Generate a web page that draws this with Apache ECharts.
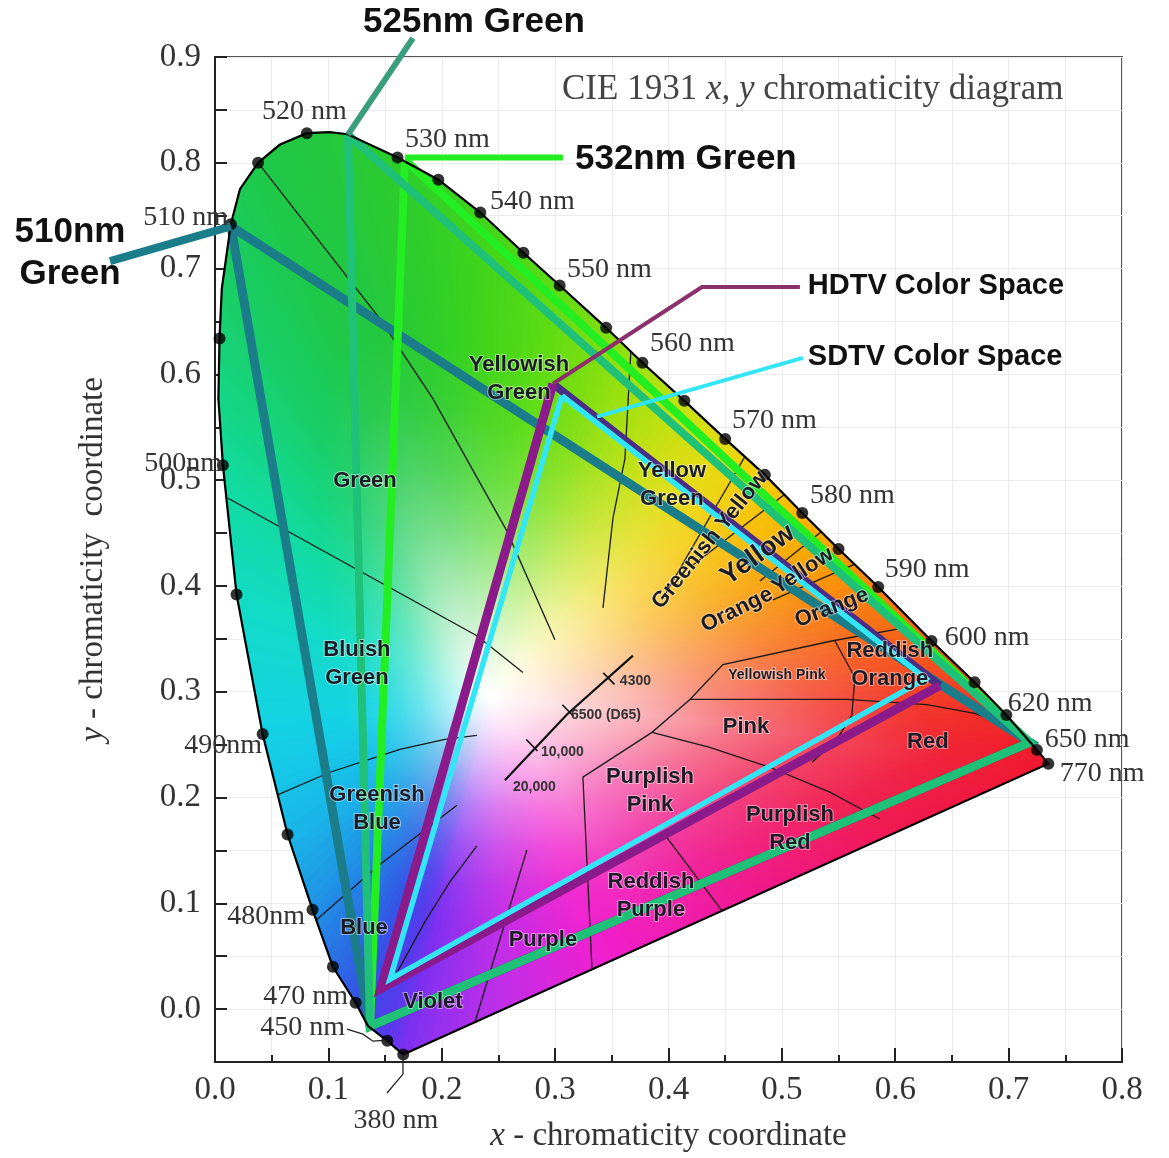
<!DOCTYPE html>
<html><head><meta charset="utf-8">
<script src="https://cdn.jsdelivr.net/npm/echarts@6/dist/echarts.min.js"></script>
<style>html,body{margin:0;padding:0;background:#fff}#c{width:1169px;height:1158px}</style>
</head><body><div id="c"></div>
<script>
// ---------- data (chromaticity coordinates) ----------
const locusPoints = [
 [0.166,-0.043],[0.152,-0.030],[0.135,-0.016],[0.124,0.006],[0.104,0.040],[0.086,0.094],
 [0.064,0.165],[0.042,0.260],[0.019,0.392],[0.007,0.514],[0.003,0.577],[0.004,0.634],
 [0.006,0.681],[0.014,0.742],[0.022,0.775],[0.038,0.800],[0.057,0.817],[0.081,0.828],
 [0.101,0.829],[0.117,0.827],[0.161,0.805],[0.197,0.784],[0.234,0.753],[0.272,0.715],
 [0.304,0.684],[0.345,0.644],[0.377,0.611],[0.414,0.575],[0.450,0.539],[0.485,0.505],
 [0.518,0.469],[0.550,0.435],[0.585,0.399],[0.632,0.348],[0.670,0.309],[0.698,0.278],
 [0.725,0.245],[0.735,0.232]
];
const locusDotIndex = [0,1,3,4,5,6,7,8,9,11,13,15,17,20,21,22,23,24,25,26,27,28,29,30,31,32,33,34,35,36,37];
const fanCenter = [0.2425, 0.2945];

const wavelengthLabels = [
 ['380 nm',0.1596,-0.1056],['450 nm',0.1146,-0.0171],['470 nm',0.1173,0.0121],
 ['480nm',0.0794,0.0874],['490nm',0.0414,0.2494],['500nm',0.0062,0.5158],
 ['510 nm',0.0115,0.7484],['520 nm',0.0414,0.8482],['530 nm',0.1675,0.8218],
 ['540 nm',0.2425,0.7635],['550 nm',0.3104,0.6994],['560 nm',0.3836,0.6288],
 ['570 nm',0.4559,0.5563],['580 nm',0.5247,0.4857],['590 nm',0.5908,0.4151],
 ['600 nm',0.6437,0.3510],['620 nm',0.6993,0.2889],['650 nm',0.7319,0.2550],
 ['770 nm',0.7451,0.2230]
];
const wavelengthAlign = ['center','right','right','right','right','right','right',
 'left','left','left','left','left','left','left','left','left','left','left','left'];

const regionLabels = [
 ['Green',0.1323,0.4989],['Bluish\nGreen',0.1252,0.3266],['Greenish\nBlue',0.1429,0.1891],
 ['Blue',0.1314,0.0770],['Violet',0.1922,0.0064],['Purple',0.2892,0.0657],
 ['Reddish\nPurple',0.3845,0.1072],['Purplish\nRed',0.5071,0.1702],['Purplish\nPink',0.3836,0.2060],
 ['Pink',0.4683,0.2663],['Red',0.6287,0.2522],['Yellowish Pink',0.4956,0.3153],
 ['Reddish\nOrange',0.5952,0.3256],['Orange',0.4603,0.3774],['Yellow',0.5185,0.4141],
 ['Orange',0.5441,0.3793],['Yellow',0.4788,0.4292],['Greenish Yellow',0.4365,0.4433],
 ['Yellow\nGreen',0.4030,0.4951],['Yellowish\nGreen',0.2681,0.5959]
];
const regionRotate = [0,0,0,0,0,0,0,0,0,0,0,0,0,26,33,21,36,51,0,0];

const kellyLines = [
 [[0.0379,0.8002],[0.1455,0.6524],[0.1922,0.5770],[0.2575,0.4518],[0.2998,0.3492]],
 [[0.0115,0.4829],[0.2310,0.3529],[0.2716,0.3181]],
 [[0.0547,0.2023],[0.1014,0.2239],[0.1631,0.2456],[0.2028,0.2550],[0.2310,0.2588]],
 [[0.0899,0.0846],[0.1429,0.1345],[0.2134,0.1928]],
 [[0.1587,0.0309],[0.1852,0.0827],[0.2072,0.1203],[0.2310,0.1542]],
 [[0.2293,-0.0124],[0.2751,0.1505]],
 [[0.3325,0.0384],[0.3245,0.2192],[0.3854,0.2616],[0.4189,0.2927],[0.4480,0.3256],[0.5450,0.3482],[0.6129,0.3614]],
 [[0.4189,0.2927],[0.5573,0.2927],[0.6279,0.2879],[0.6702,0.2795],[0.7037,0.2663]],
 [[0.3854,0.2616],[0.4365,0.2475],[0.4894,0.2286],[0.5423,0.2051],[0.5864,0.1797]],
 [[0.3968,0.1646],[0.4471,0.0930]],
 [[0.5467,0.3482],[0.5644,0.3134],[0.5617,0.2776],[0.5467,0.2522],[0.5265,0.2333]],
 [[0.4674,0.5224],[0.3942,0.3868]],
 [[0.5026,0.4866],[0.4215,0.4198]],
 [[0.5353,0.4518],[0.4806,0.4047]],
 [[0.5644,0.4207],[0.4921,0.3868]],
 [[0.3668,0.6222],[0.3616,0.5205],[0.3510,0.4640],[0.3422,0.3793]]
];

const planckLocus = [[0.2557,0.2164],[0.3104,0.2785],[0.3686,0.3341]];
const planckTicks = [[0.3474,0.3124],[0.3113,0.2823],[0.2795,0.2494]];
const planckLabels = [['4300',0.3571,0.3096],['6500 (D65)',0.3139,0.2776],['10,000',0.2875,0.2427],['20,000',0.2628,0.2098]];

const redPrimary = [0.7187,0.2522];
const bluePrimary = [0.1367,-0.0162];
const green510 = [0.0141,0.7399];
const green525 = [0.1173,0.8266];
const green532 = [0.1675,0.8030];
const hdtvPrimaries = [[0.2981,0.5911],[0.6393,0.3058],[0.1464,0.0196]];
const sdtvPrimaries = [[0.3060,0.5798],[0.6270,0.3124],[0.1543,0.0281]];

const callout510 = [[-0.0926,0.7070],[0.0141,0.7399]];
const callout525 = [[0.1746,0.9179],[0.1173,0.8266]];
const callout532 = [[0.1675,0.8049],[0.3069,0.8049]];
const calloutHDTV = [[0.2981,0.5911],[0.4295,0.6825],[0.5159,0.6825]];
const calloutSDTV = [[0.3369,0.5601],[0.5185,0.6156]];
const leader380 = [[0.1658,-0.0426],[0.1658,-0.0614],[0.1517,-0.0793]];
const leader450 = [[0.1164,-0.0190],[0.1305,-0.0237],[0.1393,-0.0303],[0.1517,-0.0294]];

const calloutLabels = [
 ['525nm Green',0.2284,0.9330],['532nm Green',0.3175,0.8030],['510nm\nGreen',-0.1279,0.7145],
 ['HDTV Color Space',0.5229,0.6834],['SDTV Color Space',0.5229,0.6166]
];

// ---------- styles ----------
const locusColors = ['#7b2ff0','#5a38ee','#4644ea','#3652e6','#2a6ee4','#2092e6','#18b6e8','#14d2e6',
 '#12dcc4','#12da9c','#14d686','#16d276','#18ce68','#1acc5c','#1cca52','#1ec84a','#20c844','#22c840',
 '#24c83c','#26ca36','#2ccc2c','#34d024','#40d41a','#4ed816','#60dc12','#7ede10','#a0e010','#c4e010',
 '#e2dc10','#f4cc08','#f8b800','#f8a000','#f88408','#f65c18','#f44020','#f22c24','#f01c28','#f0182e'];
const saturationSpeed = [1.35,1.35,1.35,1.35,1.35,1.35,1.35,1.35,1.35,1.35,1.35,1.35,1.35,1.35,1.35,1.35,
 1.35,1.35,1.35,1.35,1.3,1.25,1.2,1.15,1.1,1.05,1.0,0.95,0.9,0.85,0.85,0.85,0.85,0.85,0.85,0.85,0.85,0.85];
const purpleRamp = [[0,'#f0182e'],[0.23,'#f01850'],[0.46,'#f01890'],[0.69,'#f020d0'],[0.85,'#c02ee8'],[0.96,'#9030f0'],[1,'#7b2ff0']];
const mixStops = [[0,0],[0.1,0.12],[0.25,0.36],[0.4,0.62],[0.55,0.82],[0.7,0.95],[0.85,1],[1,1]];

function hexRgb(h){return [parseInt(h.substr(1,2),16),parseInt(h.substr(3,2),16),parseInt(h.substr(5,2),16)];}
function lerpC(a,b,t){return a.map((v,i)=>v+(b[i]-v)*t);}
function rgbStr(c){return 'rgb('+c.map(v=>Math.round(v)).join(',')+')';}
function rampAt(t){
  for(let k=0;k<purpleRamp.length-1;k++){
    const a=purpleRamp[k],b=purpleRamp[k+1];
    if(t<=b[0]) return lerpC(hexRgb(a[1]),hexRgb(b[1]),(t-a[0])/(b[0]-a[0]));
  }
  return hexRgb(purpleRamp[purpleRamp.length-1][1]);
}
function edgeColor(i,t){
  const n=locusPoints.length;
  if(i===n-1) return rampAt(t);
  return lerpC(hexRgb(locusColors[i]),hexRgb(locusColors[i+1]),t);
}
function edgeSpeed(i,t){
  const n=locusPoints.length;
  if(i===n-1) return 0.85+0.5*Math.max(0,(t-0.6)/0.4);
  return saturationSpeed[i]+(saturationSpeed[i+1]-saturationSpeed[i])*t;
}

const SERIF='"Liberation Serif", "Times New Roman", serif';
const SANS='"Liberation Sans", Arial, sans-serif';

function lineSeries(points,color,width,z,closed){
  const d=closed?points.concat([points[0]]):points;
  return {type:'line',data:d,showSymbol:false,symbol:'none',silent:true,z:z,clip:false,
    lineStyle:{color:color,width:width,join:'miter',cap:'butt'},emphasis:{disabled:true},animation:false};
}
function polySeries(points,color,width,z){
  return {type:'custom',coordinateSystem:'cartesian2d',data:points,clip:false,silent:true,z:z,
    renderItem:function(params,api){
      if(params.dataIndex!==0) return null;
      return {type:'polyline',shape:{points:points.map(p=>api.coord(p))},style:{stroke:color,lineWidth:width,fill:null}};
    }};
}
function textSeries(items,styleOf,z){
  return {type:'custom',coordinateSystem:'cartesian2d',data:items.map(it=>[it[1],it[2]]),clip:false,silent:true,z:z,
    renderItem:function(params,api){
      const it=items[params.dataIndex];const p=api.coord([it[1],it[2]]);const s=styleOf(params.dataIndex);
      return {type:'text',x:p[0],y:p[1],rotation:(s.rotate||0)*Math.PI/180,
        style:{text:it[0],font:s.font,fill:s.fill,align:s.align||'center',verticalAlign:'middle',
          lineHeight:s.lineHeight,stroke:s.stroke,lineWidth:s.lineWidth||0}};
    }};
}

const series=[];
// colour fill of the diagram (fan of gradient triangles)
series.push({type:'custom',coordinateSystem:'cartesian2d',silent:true,z:1,
  data:locusPoints.map(p=>[p[0],p[1]]),
  renderItem:function(params,api){
    const n=locusPoints.length,i=params.dataIndex,j=(i+1)%n;
    const A=api.coord(fanCenter),P=api.coord(locusPoints[i]),Q=api.coord(locusPoints[j]);
    const len=Math.hypot(Q[0]-P[0],Q[1]-P[1]);
    const k=Math.max(1,Math.ceil(len/10));
    const children=[];
    for(let s=0;s<k;s++){
      const t0=s/k,t1=(s+1)/k,tm=(t0+t1)/2;
      const p0=[P[0]+(Q[0]-P[0])*t0,P[1]+(Q[1]-P[1])*t0];
      const p1=[P[0]+(Q[0]-P[0])*t1,P[1]+(Q[1]-P[1])*t1];
      const m=[(p0[0]+p1[0])/2,(p0[1]+p1[1])/2];
      const c=edgeColor(i,tm);
      const sp=edgeSpeed(i,tm);
      const stops=[];
      mixStops.forEach(o=>{const off=Math.min(1,o[0]/sp);
        if(!stops.length||off>stops[stops.length-1].offset) stops.push({offset:off,color:rgbStr(lerpC([255,255,255],c,o[1]))});});
      if(stops[stops.length-1].offset<1) stops.push({offset:1,color:rgbStr(c)});
      const g=new echarts.graphic.LinearGradient(A[0],A[1],m[0],m[1],stops,true);
      children.push({type:'polygon',shape:{points:[A,p0,p1]},style:{fill:g,stroke:g,lineWidth:1.2}});
    }
    return {type:'group',children:children};
  }});
// region boundaries
kellyLines.forEach(l=>series.push(lineSeries(l,'#1a1a1a',1.3,2,false)));
// Planckian locus
series.push(lineSeries(planckLocus,'#111',2.2,3,false));
series.push({type:'custom',coordinateSystem:'cartesian2d',silent:true,z:3,data:planckTicks,
  renderItem:function(params,api){
    const a=api.coord(planckLocus[0]),b=api.coord(planckLocus[planckLocus.length-1]);
    let dx=b[0]-a[0],dy=b[1]-a[1];const L=Math.hypot(dx,dy);dx/=L;dy/=L;
    const p=api.coord(planckTicks[params.dataIndex]);const h=8;
    return {type:'line',shape:{x1:p[0]-dy*h,y1:p[1]+dx*h,x2:p[0]+dy*h,y2:p[1]-dx*h},style:{stroke:'#111',lineWidth:1.6}};
  }});
// laser gamut triangles
series.push(lineSeries([green510,redPrimary,bluePrimary],'#1b7d89',9,4,true));
series.push(lineSeries([green532,redPrimary,bluePrimary],'#22ee22',8,5,true));
series.push(lineSeries([green525,redPrimary,bluePrimary],'#1fc178',8,6,true));
// HDTV & SDTV
series.push(lineSeries([hdtvPrimaries[1],hdtvPrimaries[0]],'#4b2d86',8,7,false));
series.push(lineSeries([hdtvPrimaries[0],hdtvPrimaries[2],hdtvPrimaries[1]],'#8b1a8b',9,7,false));
series.push(lineSeries(sdtvPrimaries,'#33e6f5',5.5,8,true));
// spectral locus outline and dots
series.push(lineSeries(locusPoints,'#000',2.2,9,true));
series.push({type:'scatter',data:locusDotIndex.map(i=>locusPoints[i]),symbolSize:12,silent:true,z:10,
  itemStyle:{color:'#000'},clip:false});
// callouts & leaders
series.push(polySeries(callout510,'#1b7d89',8,11));
series.push(polySeries(callout525,'#3a9e7c',6,11));
series.push(polySeries(callout532,'#22ee22',6,11));
series.push(polySeries(calloutHDTV,'#8c2f6c',4,11));
series.push(polySeries(calloutSDTV,'#33e6f5',4,11));
series.push(polySeries(leader380,'#222',1.3,11));
series.push(polySeries(leader450,'#222',1.3,11));
// texts
series.push(textSeries(wavelengthLabels,i=>({font:'28px '+SERIF,fill:'#333',align:wavelengthAlign[i]}),12));
series.push(textSeries(regionLabels,i=>{
  const t=regionLabels[i][0];
  const size=t==='Yellowish Pink'?14:((t==='Yellow'&&regionRotate[i]>34)?27:22);
  return {font:'bold '+size+'px '+SANS,fill:'#1c1c26',rotate:regionRotate[i],lineHeight:size+6,
    stroke:'rgba(255,255,255,0.45)',lineWidth:2};
},12));
series.push(textSeries(planckLabels,i=>({font:'bold 14px '+SANS,fill:'#333',align:'left'}),12));
series.push(textSeries(calloutLabels,i=>({font:'bold '+(i<3?35:29)+'px '+SANS,fill:'#111',
  align:(i===0||i===2)?'center':'left',lineHeight:42}),12));

const option={
  animation:false,
  backgroundColor:'#fff',
  title:{text:'{a|CIE 1931 }{b|x, y}{a| chromaticity diagram}',left:557,top:67,
    textStyle:{fontWeight:'normal',rich:{a:{fontFamily:SERIF,fontSize:35,fontWeight:'normal',color:'#444'},
      b:{fontFamily:SERIF,fontSize:35,fontStyle:'italic',fontWeight:'normal',color:'#444'}}}},
  grid:{left:215,right:47,top:57,bottom:92,show:true,borderColor:'#555',borderWidth:2},
  xAxis:{type:'value',min:0,max:0.8,interval:0.1,
    axisLine:{show:true,onZero:false,lineStyle:{color:'#222',width:2}},
    axisTick:{show:true,inside:true,length:14,lineStyle:{color:'#222',width:2}},
    minorTick:{show:true,splitNumber:2,length:7,lineStyle:{color:'#222',width:2}},
    axisLabel:{formatter:v=>v.toFixed(1),fontFamily:SERIF,fontSize:33,color:'#333',margin:12},
    splitLine:{show:true,lineStyle:{color:'#ebebeb'}},
    minorSplitLine:{show:true,lineStyle:{color:'#ebebeb'}},
    name:'{i|x} - chromaticity coordinate',nameLocation:'middle',nameGap:58,
    nameTextStyle:{fontFamily:SERIF,fontSize:33,color:'#333',rich:{i:{fontFamily:SERIF,fontSize:33,fontStyle:'italic',color:'#333'}}}},
  yAxis:{type:'value',min:-0.05,max:0.9,interval:0.05,
    axisLine:{show:true,onZero:false,lineStyle:{color:'#222',width:2}},
    axisTick:{show:true,inside:true,length:12,lineStyle:{color:'#222',width:2}},
    axisLabel:{formatter:function(v){const k=Math.round(v*100);return (k%10===0&&k>=0)?(k/100).toFixed(1):'';},
      fontFamily:SERIF,fontSize:33,color:'#333',margin:14},
    splitLine:{show:true,lineStyle:{color:'#ebebeb'}},
    name:'{i|y} - chromaticity  coordinate',nameLocation:'middle',nameGap:105,nameRotate:90,
    nameTextStyle:{fontFamily:SERIF,fontSize:33,color:'#333',rich:{i:{fontFamily:SERIF,fontSize:33,fontStyle:'italic',color:'#333'}}}},
  series:series
};
const chart=echarts.init(document.getElementById('c'),null,{renderer:'canvas'});
chart.setOption(option);
</script></body></html>
